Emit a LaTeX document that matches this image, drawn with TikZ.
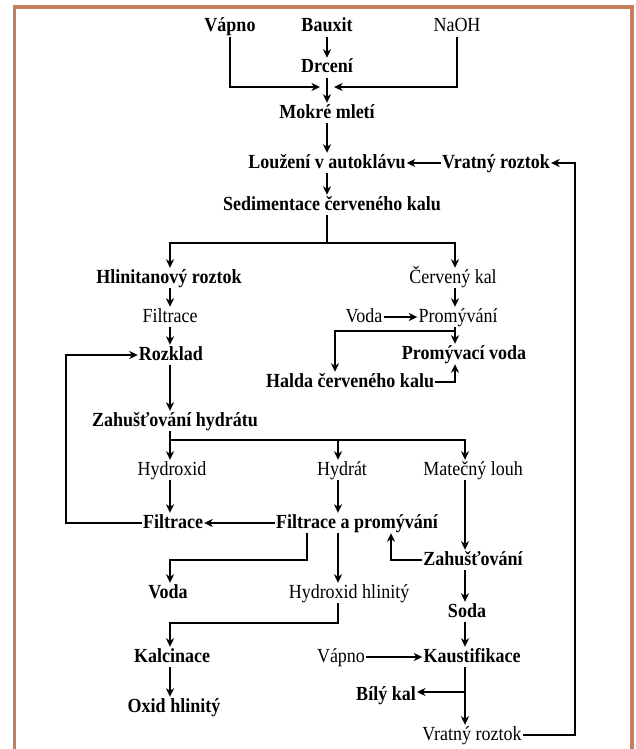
\documentclass[tikz,border=0pt]{standalone}
\usepackage{fontspec}
\setmainfont{Liberation Serif}[FakeStretch=0.9]
\usepackage{xcolor}
\usetikzlibrary{arrows.meta}
\definecolor{framebrown}{RGB}{196,128,92}

\begin{document}
\begin{tikzpicture}[x=1pt,y=-1pt]
  \tikzset{procnode/.style={inner sep=1pt,text height=14pt,text depth=4pt,font=\fontsize{20}{22}\selectfont}}
  \tikzset{procbold/.style={procnode,font=\fontsize{20}{22}\selectfont\bfseries}}
  \tikzset{flowline/.style={draw=black,line width=1.6pt}}
  \tikzset{flowarrow/.style={flowline,-{Stealth[length=8.5pt,width=8pt,inset=2.5pt]}}}
  \tikzset{framerule/.style={draw=framebrown,line width=3.5pt}}
  \useasboundingbox (0,0) rectangle (635,749);
  \draw[framerule] (14.5,749) -- (14.5,7) -- (632,7) -- (632,749);
  % top: raw materials and leaching
  \node[procbold] (vapnoA) at (230,27) {Vápno};
  \node[procbold] (bauxit) at (327,27) {Bauxit};
  \node[procnode] (naoh) at (457,27) {NaOH};
  \node[procbold] (drceni) at (327,68) {Drcení};
  \node[procbold] (mokre) at (327,113) {Mokré mletí};
  \node[procbold] (louzeni) at (327,163) {Loužení v autoklávu};
  \node[procbold] (vratnyA) at (496,163) {Vratný roztok};
  \node[procbold] (sediment) at (332,205) {Sedimentace červeného kalu};
  % red mud branch
  \node[procbold] (hlinitan) at (169,278) {Hlinitanový roztok};
  \node[procnode] (cervkal) at (453,278) {Červený kal};
  \node[procnode] (filtraceA) at (170,317) {Filtrace};
  \node[procnode] (voda) at (364,317) {Voda};
  \node[procnode] (promyvani) at (458,317) {Promývání};
  \node[procbold] (rozklad) at (171,355) {Rozklad};
  \node[procbold] (promvoda) at (464,354) {Promývací voda};
  \node[procbold] (halda) at (350,382) {Halda červeného kalu};
  % hydrate
  \node[procbold] (zahydrat) at (175,421) {Zahušťování hydrátu};
  \node[procnode] (hydroxid) at (172,470) {Hydroxid};
  \node[procnode] (hydrat) at (342,470) {Hydrát};
  \node[procnode] (matlouh) at (473,470) {Matečný louh};
  \node[procbold] (filtraceB) at (173,523) {Filtrace};
  \node[procbold] (filtprom) at (357,523) {Filtrace a promývání};
  \node[procbold] (zahus) at (473,560) {Zahušťování};
  \node[procbold] (vodaB) at (168,593) {Voda};
  \node[procnode] (hydhlin) at (349,593) {Hydroxid hlinitý};
  \node[procbold] (soda) at (467,612) {Soda};
  \node[procbold] (kalcinace) at (172,657) {Kalcinace};
  \node[procnode] (vapnoB) at (341,657) {Vápno};
  \node[procbold] (kaust) at (472,657) {Kaustifikace};
  \node[procbold] (bily) at (386,695) {Bílý kal};
  \node[procbold] (oxid) at (174,707) {Oxid hlinitý};
  \node[procnode] (vratnyB) at (472,735) {Vratný roztok};
  % branch points
  \coordinate (join) at (327,87);
  \coordinate (split1) at (327,243);
  \coordinate (split2) at (170,440);
  \coordinate (brRed) at (455,331);
  \coordinate (brHyd) at (338,560);
  \coordinate (brWash) at (250,560);
  \coordinate (brCalc) at (250,623);
  \coordinate (brKaus) at (465,692);
  \coordinate (loopL) at (66,440);
  \coordinate (loopR) at (575,450);
  % connectors
  \draw[flowarrow] (bauxit) -- (drceni);
  \draw[flowarrow] (vapnoA.south) |- ([xshift=-7pt]join);
  \draw[flowarrow] (naoh.south) |- ([xshift=7pt]join);
  \draw[flowarrow] (drceni) -- (mokre);
  \draw[flowarrow] (mokre) -- (louzeni);
  \draw[flowarrow] (vratnyA) -- (louzeni);
  \draw[flowarrow] (vratnyB.east) -| (loopR) |- (vratnyA.east);
  \draw[flowarrow] (louzeni) -- (louzeni |- sediment.north);
  \draw[flowline] (louzeni |- sediment.south) -- (split1);
  \draw[flowarrow] (split1) -| (split2 |- hlinitan.north);
  \draw[flowarrow] (split1) -| (brRed |- cervkal.north);
  \draw[flowarrow] (split2 |- hlinitan.south) -- (split2 |- filtraceA.north);
  \draw[flowarrow] (split2 |- filtraceA.south) -- (split2 |- rozklad.north);
  \draw[flowarrow] (cervkal.south -| brRed) -- (brRed |- promyvani.north);
  \draw[flowarrow] (voda) -- (promyvani);
  \draw[flowarrow] (promyvani.south -| brRed) -- (brRed |- promvoda.north);
  \draw[flowarrow] (brRed) -| ([xshift=-15pt]halda.north);
  \draw[flowarrow] (halda.east) -| (brRed |- promvoda.south);
  \draw[flowarrow] (split2 |- rozklad.south) -- (split2 |- zahydrat.north);
  \draw[flowline] (zahydrat.south -| split2) -- (split2);
  \draw[flowarrow] (split2) -- (split2 |- hydroxid.north);
  \draw[flowarrow] (split2) -| (brHyd |- hydrat.north);
  \draw[flowarrow] (split2) -| (brKaus |- matlouh.north);
  \draw[flowarrow] (hydroxid.south -| split2) -- (split2 |- filtraceB.north);
  \draw[flowarrow] (hydrat.south -| brHyd) -- (brHyd |- filtprom.north);
  \draw[flowarrow] (filtprom) -- (filtraceB);
  \draw[flowarrow] (filtraceB.west) -| (loopL) |- (rozklad.west);
  \draw[flowarrow] (matlouh.south -| brKaus) -- (brKaus |- zahus.north);
  \draw[flowarrow] (zahus.west) -| ([xshift=34pt]filtprom.south);
  \draw[flowarrow] ([xshift=-50pt]filtprom.south) |- (brWash) -| (split2 |- vodaB.north);
  \draw[flowarrow] (filtprom.south -| brHyd) -- (brHyd |- hydhlin.north);
  \draw[flowarrow] (hydhlin.south -| brHyd) |- (brCalc) -| (split2 |- kalcinace.north);
  \draw[flowarrow] (split2 |- kalcinace.south) -- (split2 |- oxid.north);
  \draw[flowarrow] (zahus.south -| brKaus) -- (brKaus |- soda.north);
  \draw[flowarrow] (soda.south -| brKaus) -- (brKaus |- kaust.north);
  \draw[flowarrow] (vapnoB) -- (kaust);
  \draw[flowarrow] (kaust.south -| brKaus) -- (brKaus |- vratnyB.north);
  \draw[flowarrow] (brKaus) -- (brKaus -| bily.east);
\end{tikzpicture}
\end{document}
